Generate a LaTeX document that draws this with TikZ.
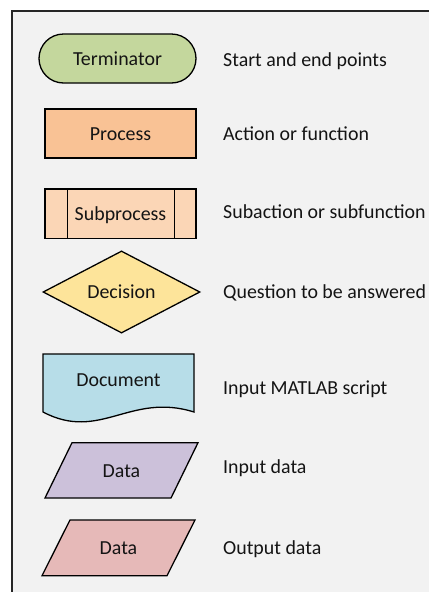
\documentclass[tikz,border=0pt]{standalone}
\usepackage{fontspec}
\setmainfont{Carlito}
\usetikzlibrary{shapes.geometric}
\definecolor{panel}{HTML}{F2F2F2}
\definecolor{inkc}{HTML}{141414}
\definecolor{termc}{HTML}{C4D79D}
\definecolor{procc}{HTML}{F9C295}
\definecolor{subpc}{HTML}{FBD6B6}
\definecolor{decc}{HTML}{FDE49A}
\definecolor{docc}{HTML}{B7DDE8}
\definecolor{inc}{HTML}{CCC1DA}
\definecolor{outc}{HTML}{E6B9B8}
\tikzset{
  txt/.style={font=\fontsize{19.9}{23}\selectfont, text=inkc,
    text height=13.7pt, text depth=0pt, inner sep=0pt},
  shapebox/.style={txt, draw=black, line width=1.3pt},
  legend/.style={txt, anchor=west},
  outline/.style={draw=black, line width=1.3pt, line join=miter}
}
\begin{document}
\begin{tikzpicture}[x=1pt, y=-1pt]
  \useasboundingbox (0,0) rectangle (429,592);
  \fill[white] (0,0) rectangle (429,592);
  % legend panel
  \fill[panel] (12,11) rectangle (429,592);
  \draw[line width=1.2pt, color=black!85] (12,592) -- (12,11) -- (429,11);

  % terminator
  \node[shapebox, fill=termc, rounded corners=24.5pt,
        minimum width=157pt, minimum height=49pt] (term) at (117.5,58.5) {Terminator};
  % process
  \node[shapebox, fill=procc, minimum width=151pt, minimum height=49pt]
        (proc) at (120.5,133.5) {Process};
  % subprocess with side bars
  \node[shapebox, fill=subpc, minimum width=151pt, minimum height=49.5pt]
        (subp) at (120.5,213.8) {Subprocess};
  \draw[outline] ([xshift=23pt]subp.north west) -- ([xshift=23pt]subp.south west);
  \draw[outline] ([xshift=-22pt]subp.north east) -- ([xshift=-22pt]subp.south east);
  % decision
  \node[shapebox, diamond, fill=decc, minimum width=157pt, minimum height=82pt]
        (dec) at (121.5,292) {Decision};

  % document
  \coordinate (docA) at (43,354);
  \coordinate (docB) at (194,354);
  \coordinate (docC) at (194,412);
  \coordinate (docD) at (43,412);
  \filldraw[outline, fill=docc] (docA) -- (docB) -- (docC)
    .. controls (130,392) and (100,442) .. (docD) -- cycle;
  \node[txt] (doc) at (118.5,379.3) {Document};

  % input data
  \coordinate (inA) at (72,442.7);
  \coordinate (inB) at (198,442.7);
  \coordinate (inC) at (171,498);
  \coordinate (inD) at (45,498);
  \filldraw[outline, fill=inc] (inA) -- (inB) -- (inC) -- (inD) -- cycle;
  \node[txt] (indata) at (121.5,470.3) {Data};

  % output data
  \coordinate (outA) at (70,520);
  \coordinate (outB) at (195,520);
  \coordinate (outC) at (167,575.7);
  \coordinate (outD) at (42,575.7);
  \filldraw[outline, fill=outc] (outA) -- (outB) -- (outC) -- (outD) -- cycle;
  \node[txt] (outdata) at (118.5,547.6) {Data};

  % descriptions
  \node[legend] (lterm) at (223,59.75) {Start and end points};
  \node[legend] (lproc) at (223,133.75) {Action or function};
  \node[legend] (lsubp) at (223,211.75) {Subaction or subfunction};
  \node[legend] (ldec)  at (223,291.5) {Question to be answered};
  \node[legend] (ldoc)  at (223,387.5) {Input MATLAB script};
  \node[legend] (lin)   at (223,466.75) {Input data};
  \node[legend] (lout)  at (223,547.25) {Output data};
\end{tikzpicture}
\end{document}
